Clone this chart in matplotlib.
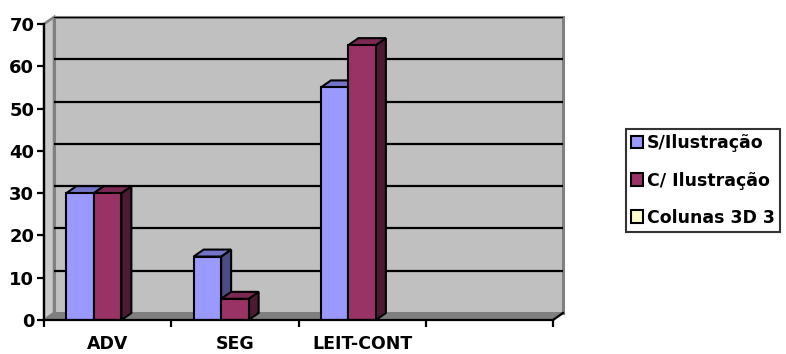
import matplotlib
matplotlib.use("Agg")
import matplotlib.pyplot as plt
from matplotlib.patches import Polygon, Rectangle, Patch
import numpy as np

plt.rcParams['font.family'] = ['DejaVu Sans']
plt.rcParams['font.weight'] = 'bold'

categories = ["ADV", "SEG", "LEIT-CONT", ""]
series_names = ["S/Ilustração", "C/ Ilustração", "Colunas 3D 3"]
s_ilustracao = [30, 15, 55, np.nan]
c_ilustracao = [30, 5, 65, np.nan]
colunas_3d_3 = [np.nan, np.nan, np.nan, np.nan]
y_ticks = [0, 10, 20, 30, 40, 50, 60, 70]

front_colors = ["#9999FF", "#993366", "#FFFFCC"]
top_colors = ["#7373C8", "#7A2952", "#CCCCA3"]
side_colors = ["#4C4C80", "#4D1A33", "#80806A"]

W, H = 786, 354
fig = plt.figure(figsize=(W / 100, H / 100), dpi=100)

# plot region in pixels (front plane x: 44..553, y: 320..24; wall depth 10px x 7px)
px_left, px_right_front, px_right_back = 44, 553, 563
px_y0, px_y70 = 320, 24
depth_px_x, depth_px_y = 10, 7
ymax = 70
px_per_cat = (px_right_front - px_left) / len(categories)
px_per_unit = (px_y0 - px_y70) / ymax
dx = depth_px_x / px_per_cat
dy = depth_px_y / px_per_unit

ax_w = px_right_back - px_left
ax_h = (px_y0 - px_y70) + depth_px_y
ax = fig.add_axes([px_left / W, (H - px_y0) / H, ax_w / W, ax_h / H])
ax.set_xlim(0, len(categories) + dx)
ax.set_ylim(0, ymax + dy)
ncat = len(categories)

# walls and floor
wall_grey = "#C0C0C0"
edge_grey = "#808080"
ax.add_patch(Polygon([(dx, dy), (ncat + dx, dy), (ncat + dx, ymax + dy), (dx, ymax + dy)],
                     closed=True, facecolor=wall_grey, edgecolor=edge_grey, lw=2.2,
                     zorder=0, clip_on=False, joinstyle="miter"))
ax.add_patch(Polygon([(0, 0), (dx, dy), (dx, ymax + dy), (0, ymax)],
                     closed=True, facecolor="#C8C8C8", edgecolor=edge_grey, lw=1.8,
                     zorder=0.5, clip_on=False, joinstyle="miter"))
ax.add_patch(Polygon([(0, 0), (ncat, 0), (ncat + dx, dy), (dx, dy)],
                     closed=True, facecolor="#7F7F7F", edgecolor=edge_grey, lw=1,
                     zorder=1, clip_on=False))
ax.plot([ncat, ncat + dx], [0, dy], color="black", lw=1.6, zorder=2, clip_on=False)

# gridlines on the back wall
for t in y_ticks[1:]:
    ax.plot([dx, ncat + dx], [t + dy, t + dy], color="black", lw=1.6, zorder=1,
            solid_capstyle="butt")

# 3D columns
series = [s_ilustracao, c_ilustracao, colunas_3d_3]
bar_w = 27.5 / px_per_cat
start = 0.5 - 1.5 * bar_w
for si, vals in enumerate(series):
    for ci, v in enumerate(vals):
        if np.isnan(v):
            continue
        x0 = ci + start + si * bar_w
        x1 = x0 + bar_w
        ax.add_patch(Polygon([(x1, 0), (x1 + dx, dy), (x1 + dx, v + dy), (x1, v)],
                             closed=True, facecolor=side_colors[si], edgecolor="black",
                             lw=1.5, zorder=3, joinstyle="miter"))
        ax.add_patch(Polygon([(x0, v), (x0 + dx, v + dy), (x1 + dx, v + dy), (x1, v)],
                             closed=True, facecolor=top_colors[si], edgecolor="black",
                             lw=1.5, zorder=3, joinstyle="miter"))
        ax.add_patch(Rectangle((x0, 0), bar_w, v, facecolor=front_colors[si],
                               edgecolor="black", lw=1.5, zorder=4, joinstyle="miter"))

# axes
for s in ["top", "right"]:
    ax.spines[s].set_visible(False)
ax.spines["left"].set_bounds(0, ymax)
ax.spines["bottom"].set_bounds(0, ncat)
for s in ["left", "bottom"]:
    ax.spines[s].set_linewidth(1.6)
    ax.spines[s].set_zorder(5)
ax.set_yticks(y_ticks)
ax.set_yticklabels([str(t) for t in y_ticks], fontsize=13, fontweight="bold")
ax.set_xticks(range(ncat + 1))
ax.set_xticklabels([])
ax.set_xticks([i + 0.5 for i in range(ncat)], minor=True)
ax.set_xticklabels(categories, minor=True, fontsize=12.5, fontweight="bold")
ax.tick_params(axis="y", length=5, width=1.6, pad=2)
ax.tick_params(axis="x", which="major", length=5, width=1.6)
ax.tick_params(axis="x", which="minor", length=0, pad=11)

# legend
handles = [Patch(facecolor=c, edgecolor="black", lw=1.5) for c in front_colors]
leg = fig.legend(handles, series_names, loc="center left",
                 bbox_to_anchor=(626 / W, (H - 180.5) / H), borderaxespad=0,
                 frameon=True, fancybox=False, prop={"size": 12.5, "weight": "bold"},
                 handlelength=0.7, handleheight=0.7, handletextpad=0.2,
                 labelspacing=1.1, borderpad=0.3)
leg.get_frame().set_edgecolor("black")
leg.get_frame().set_linewidth(1.5)

fig.savefig("out.png", dpi=100)
